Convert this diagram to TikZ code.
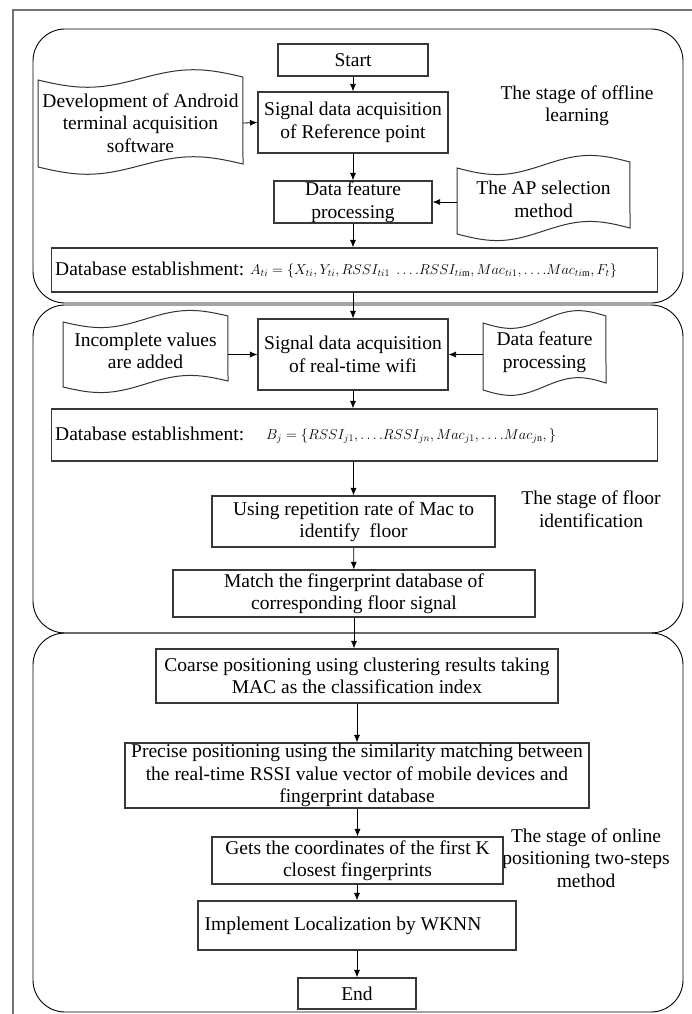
\documentclass[tikz,border=0pt]{standalone}
\usepackage{fix-cm}
\usepackage{fontspec}
\setmainfont{Liberation Serif}
\usetikzlibrary{arrows.meta,calc}
% tape outline: #1 x-left, #2 y-top(left), #3 x-right, #4 y-bottom(left), #5 amplitude, #6 rise to the right
\newcommand\tapeoutline[6]{%
  \draw[docline] plot[domain=0:1,samples=41,smooth] ({#1+\x*(#3-#1)},{#2+#5*sin(360*\x)-#6*\x})
   -- plot[domain=1:0,samples=41,smooth] ({#1+\x*(#3-#1)},{#4+#5*sin(360*\x)-#6*\x}) -- cycle;}
\begin{document}
\begin{tikzpicture}[x=1pt,y=-1pt,
  every node/.style={font=\fontsize{19.5}{22.5}\selectfont, inner sep=0pt, align=center},
  box/.style={draw=black!78, line width=1.1pt, rectangle},
  stage/.style={draw=black, line width=0.9pt, rounded corners=32pt, rectangle},
  docline/.style={draw=black!80, line width=1pt},
  arr/.style={draw=black, line width=0.8pt, -{Latex[length=7.5pt,width=6pt]}},
  frame/.style={draw=black!55, line width=1.6pt},
  mathtxt/.style={font=\fontsize{14.3}{17}\selectfont}]
\useasboundingbox (0,0) rectangle (692,1014);
\clip (0,0) rectangle (692,1014);
\fill[white] (0,0) rectangle (692,1014);
\draw[frame] (13,1040) -- (13,10) -- (720,10);

% stages
\node[stage, minimum width=650pt, minimum height=274pt] (st1) at (358,166) {};
\node[stage, minimum width=650pt, minimum height=328pt] (st2) at (358,469) {};
\node[stage, minimum width=650pt, minimum height=379pt] (st3) at (358,822.5) {};

\node (l1) at (577,105.5) {The stage of offline\\learning};
\node (l2) at (591,509) {The stage of floor\\identification};
\node (l3) at (586,858) {The stage of online\\positioning two-steps\\method};

% stage 1
\node[box, minimum width=150pt, minimum height=32pt] (start) at (353,60) {Start};
\node[box, minimum width=190pt, minimum height=61pt] (sig1) at (353,122.5) {Signal data acquisition\\of Reference point};
\node[box, minimum width=158pt, minimum height=42pt] (dfp) at (353,202) {Data feature\\processing};
\node[box, minimum width=606pt, minimum height=44pt] (db1) at (354.5,270) {};
\node[anchor=west] (db1t) at (55,269) {Database establishment:};
\node[anchor=west, mathtxt] (db1m) at (250,271) {$A_{ti}=\{X_{ti},Y_{ti},RSSI_{ti1}\;\ldots.RSSI_{ti\mathrm{m}},Mac_{ti1},\ldots.Mac_{ti\mathrm{m}},F_t\}$};
\tapeoutline{38}{80}{243}{167}{8}{3}
\node[minimum width=205pt, minimum height=87pt] (android) at (140.5,123) {Development of Android\\terminal acquisition\\software};
\tapeoutline{457}{168}{630}{234}{8}{6}
\node[minimum width=173pt, minimum height=62pt] (ap) at (543.5,199.5) {The AP selection\\method};

% stage 2
\node[box, minimum width=190pt, minimum height=71pt] (sig2) at (353,354.5) {Signal data acquisition\\of real-time wifi};
\tapeoutline{63}{322}{228}{387}{7}{6}
\node[minimum width=165pt, minimum height=58pt] (inc) at (145.5,351) {Incomplete values\\are added};
\tapeoutline{483}{323}{606}{390}{7}{7}
\node[minimum width=123pt, minimum height=52pt] (dfp2) at (544.5,352) {Data feature\\processing};
\node[box, minimum width=606pt, minimum height=52pt] (db2) at (354.5,435) {};
\node[anchor=west] (db2t) at (55,434) {Database establishment:};
\node[anchor=west, mathtxt] (db2m) at (266,436) {$B_j=\{RSSI_{j1},\ldots.RSSI_{jn},Mac_{j1},\ldots.Mac_{j\mathrm{n}},\}$};
\node[box, minimum width=283pt, minimum height=51pt] (floor) at (353.5,521.5) {Using repetition rate of Mac to\\identify\ \ floor};
\node[box, minimum width=362pt, minimum height=47pt] (match) at (354,593.5) {Match the fingerprint database of\\corresponding floor signal};

% stage 3
\node[box, minimum width=402pt, minimum height=54pt] (coarse) at (357,676) {Coarse positioning using clustering results taking\\MAC as the classification index};
\node[box, minimum width=464pt, minimum height=65pt] (precise) at (357,775.5) {Precise positioning using the similarity matching between\\the real-time RSSI value vector of mobile devices and\\fingerprint database};
\node[box, minimum width=291pt, minimum height=47pt] (gets) at (357.5,860.5) {Gets the coordinates of the first K\\closest fingerprints};
\node[box, minimum width=318pt, minimum height=49pt] (wknn) at (357,925.5) {Implement Localization by WKNN\hspace*{28pt}};
\node[box, minimum width=118pt, minimum height=31pt] (end) at (357,993.5) {End};

% connectors
\draw[arr] (start) -- (sig1);
\draw[arr] (android.east) -- (sig1.west);
\draw[arr] (sig1) -- (dfp);
\draw[arr] (dfp.east -| ap.west) -- (dfp.east);
\draw[arr] (dfp.south) -- (dfp.south |- db1.north);
\draw[arr] (db1.south -| sig2.north) -- (sig2.north);
\draw[arr] (inc.east |- sig2.west) -- (sig2.west);
\draw[arr] (dfp2.west |- sig2.east) -- (sig2.east);
\draw[arr] (sig2.south) -- (sig2.south |- db2.north);
\draw[arr] (db2.south -| floor.north) -- (floor.north);
\draw[arr] (floor) -- (match);
\draw[arr] (match.south) -- (match.south |- coarse.north);
\draw[arr] (coarse) -- (precise);
\draw[arr] (precise.south -| gets.north) -- (gets.north);
\draw[arr] (gets.south -| wknn.north) -- (wknn.north);
\draw[arr] (wknn) -- (end);
\end{tikzpicture}
\end{document}
